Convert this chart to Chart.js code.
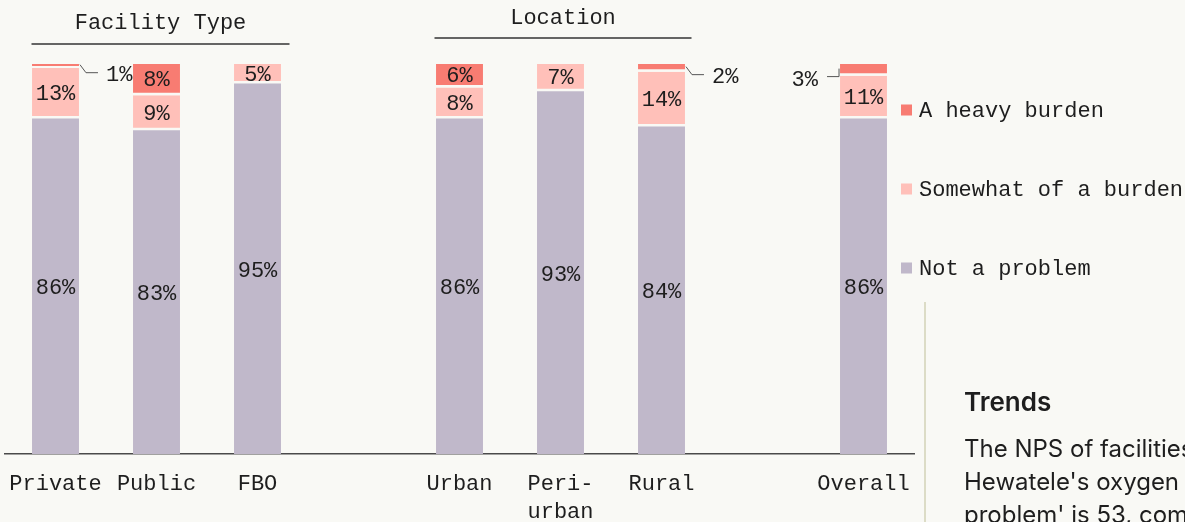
<!DOCTYPE html>
<html>
<head>
<meta charset="utf-8">
<script src="https://cdn.jsdelivr.net/npm/chart.js@4.4.1/dist/chart.umd.min.js"></script>
<style>
  html, body { margin: 0; padding: 0; background: #f9f9f5; width: 1185px; height: 522px; overflow: hidden; }
  #wrap { position: absolute; left: 0; top: 0; width: 1185px; height: 537px; }
  #side { position: absolute; left: 924px; top: 302px; width: 261px; height: 240px; border-left: 2px solid #dcdcc6; overflow: hidden; }
  #trendsTitle { position: absolute; left: 38px; top: 85px; font-family: Inter, "Liberation Sans", sans-serif; font-weight: 600; font-size: 26px; line-height: 30px; color: #1e1e1e; white-space: nowrap; }
  #trendsText { position: absolute; left: 38px; top: 130px; font-family: Inter, "Liberation Sans", sans-serif; font-size: 24px; line-height: 33px; color: #1e1e1e; white-space: nowrap; }
</style>
</head>
<body>
<div id="wrap"><canvas id="c" width="1185" height="537"></canvas></div>
<div id="side">
  <div id="trendsTitle">Trends</div>
  <div id="trendsText">The NPS of facilities<br>Hewatele's oxygen<br>problem' is 53, compared</div>
</div>
<script>
// ---- data ----
const categories = ['Private', 'Public', 'FBO', '', 'Urban', ['Peri-', 'urban'], 'Rural', '', 'Overall'];
const notProblem = [86, 83, 95, null, 86, 93, 84, null, 86];
const somewhat   = [13, 9, 5, null, 8, 7, 14, null, 11];
const heavy      = [1, 8, null, null, 6, null, 2, null, 3];
const seriesNames = ['Not a problem', 'Somewhat of a burden', 'A heavy burden'];
const groupNames = ['Facility Type', 'Location'];
const groupRanges = [[0, 2], [4, 6]];

// ---- style ----
const MONO = '"Liberation Mono", "DejaVu Sans Mono", monospace';
const BG = '#f9f9f5';
const COLORS = ['#c0b8ca', '#ffc0b9', '#f87c72'];
const TEXT = '#1e1e1e';
const GROUP_STYLE = [{ textY: 29, lineY: 44, padL: 24, padR: 32 }, { textY: 24, lineY: 38, padL: 25, padR: 30 }];

const overlay = {
  id: 'overlay',
  afterDatasetsDraw(chart) {
    const ctx = chart.ctx;
    const xs = chart.scales.x;
    const area = chart.chartArea;
    ctx.save();
    ctx.font = '22px ' + MONO;
    ctx.fillStyle = TEXT;
    ctx.textBaseline = 'alphabetic';
    // value labels
    chart.data.datasets.forEach((ds, di) => {
      const meta = chart.getDatasetMeta(di);
      meta.data.forEach((el, i) => {
        const v = ds.data[i];
        if (v == null || v === 0) return;
        const p = el.getProps(['x', 'y', 'base', 'width'], true);
        const gap = di > 0 ? 2.5 : 0;
        const top = Math.min(p.y, p.base), bot = Math.max(p.y, p.base) - gap;
        const mid = (top + bot) / 2;
        const txt = v + '%';
        if (v >= 5) {
          ctx.textAlign = 'center';
          ctx.fillText(txt, p.x, mid + 8);
        } else {
          ctx.strokeStyle = '#555';
          ctx.lineWidth = 1;
          const last = i === categories.length - 1;
          const ey = mid + 8;
          ctx.beginPath();
          if (!last) {
            const r = p.x + p.width / 2;
            ctx.moveTo(r + 1, mid);
            ctx.lineTo(r + 7, ey);
            ctx.lineTo(r + 19, ey);
            ctx.stroke();
            ctx.textAlign = 'left';
            ctx.fillText(txt, r + 27, ey + 8);
          } else {
            const l = p.x - p.width / 2;
            ctx.moveTo(l - 1, mid);
            ctx.lineTo(l - 1, ey);
            ctx.lineTo(l - 13, ey);
            ctx.stroke();
            ctx.textAlign = 'right';
            ctx.fillText(txt, l - 22, ey + 9);
          }
        }
      });
    });
    // group headers
    groupNames.forEach((g, k) => {
      const st = GROUP_STYLE[k];
      const x0 = xs.getPixelForValue(groupRanges[k][0]) - st.padL;
      const x1 = xs.getPixelForValue(groupRanges[k][1]) + st.padR;
      ctx.strokeStyle = '#333';
      ctx.lineWidth = 1.5;
      ctx.beginPath();
      ctx.moveTo(x0, st.lineY);
      ctx.lineTo(x1, st.lineY);
      ctx.stroke();
      ctx.textAlign = 'center';
      ctx.fillText(g, (x0 + x1) / 2, st.textY);
    });
    // legend
    const lx = area.right - 13;
    const order = [2, 1, 0];
    order.forEach((di, k) => {
      const cy = 110 + k * 79;
      ctx.fillStyle = chart.data.datasets[di].backgroundColor;
      ctx.fillRect(lx, cy - 5.5, 11, 11);
      ctx.fillStyle = TEXT;
      ctx.textAlign = 'left';
      ctx.fillText(chart.data.datasets[di].label, lx + 18, cy + 7);
    });
    ctx.restore();
  }
};

const segBorder = { top: 0, left: 0, right: 0, bottom: 2.5 };

new Chart(document.getElementById('c'), {
  type: 'bar',
  data: {
    labels: categories,
    datasets: [
      { label: seriesNames[0], data: notProblem, backgroundColor: COLORS[0], borderWidth: 0 },
      { label: seriesNames[1], data: somewhat, backgroundColor: COLORS[1], borderColor: BG, borderWidth: segBorder, borderSkipped: false },
      { label: seriesNames[2], data: heavy, backgroundColor: COLORS[2], borderColor: BG, borderWidth: segBorder, borderSkipped: false }
    ]
  },
  options: {
    responsive: false,
    animation: false,
    layout: { padding: { top: 64, left: 5, right: 271, bottom: 5 } },
    plugins: { legend: { display: false }, tooltip: { enabled: false } },
    datasets: { bar: { categoryPercentage: 1, barPercentage: 0.465 } },
    scales: {
      x: {
        stacked: true,
        grid: { display: false, drawTicks: true, tickLength: 10 },
        border: { display: true, color: '#4a4a4a', width: 1.5 },
        ticks: { color: TEXT, font: { family: MONO, size: 22, lineHeight: 28 / 22 }, padding: 6, maxRotation: 0, autoSkip: false }
      },
      y: { stacked: true, display: false, min: 0, max: 100 }
    }
  },
  plugins: [overlay]
});
</script>
</body>
</html>
